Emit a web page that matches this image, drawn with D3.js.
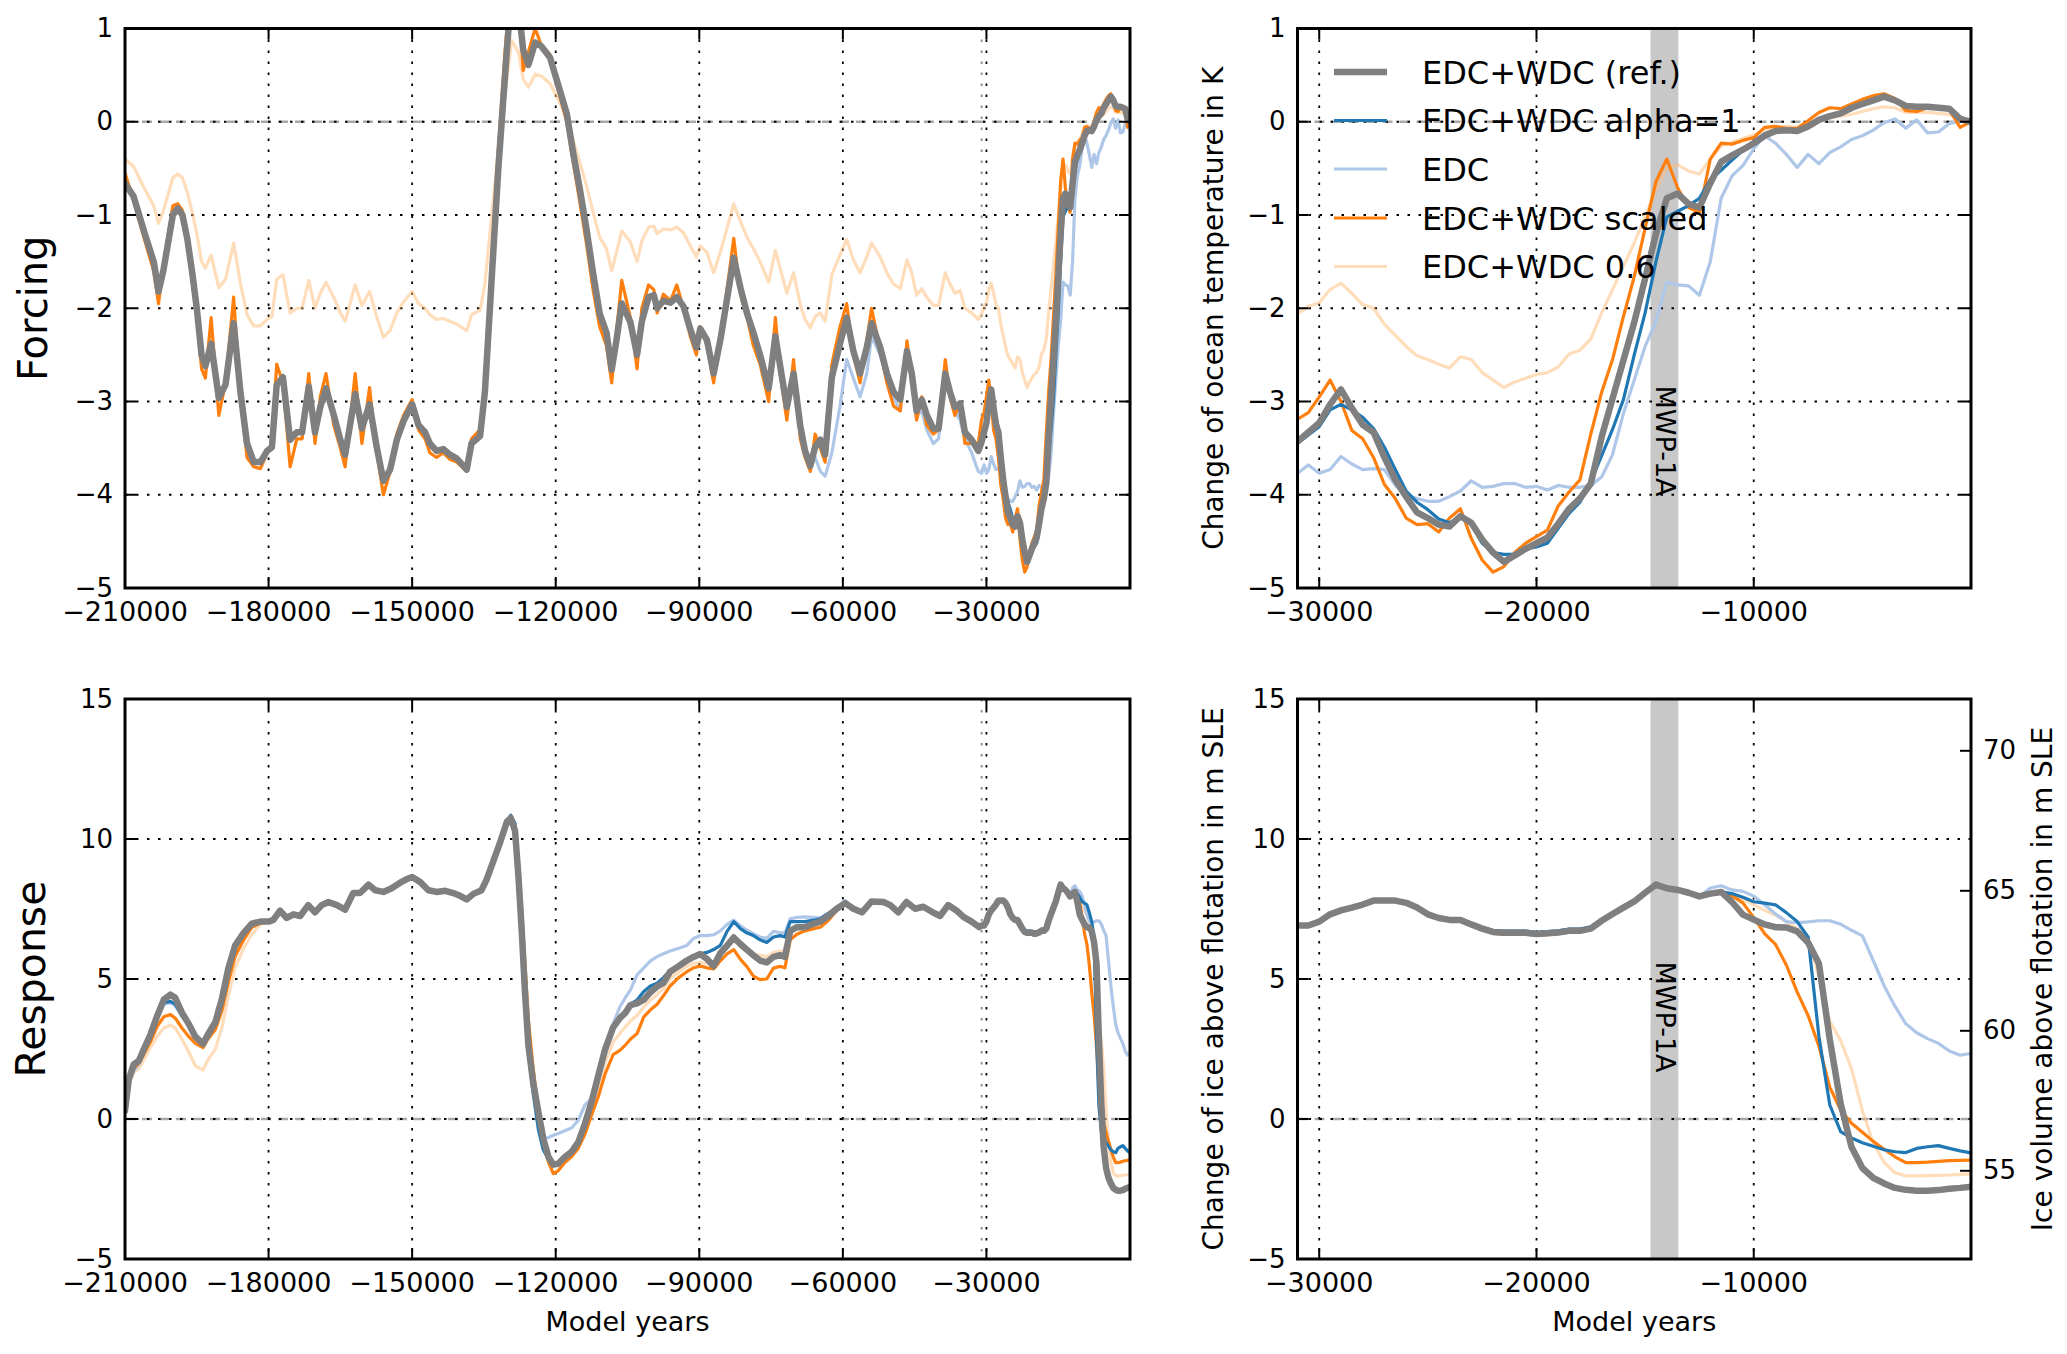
<!DOCTYPE html>
<html>
<head>
<meta charset="utf-8">
<script src="https://cdn.jsdelivr.net/npm/d3@7"></script>
<style>
  body { margin: 0; background: #fff; }
  text { font-family: "DejaVu Sans", sans-serif; fill: #000; }
</style>
</head>
<body>
<svg id="vis"></svg>
<script>
// ---------------- data ----------------
// series order: ref, alpha=1, EDC, scaled, 0.6
var seriesLabels = ["EDC+WDC (ref.)", "EDC+WDC alpha=1", "EDC", "EDC+WDC scaled", "EDC+WDC 0.6"];

// long record, forcing (-210 ka .. -31.7 ka)
var forcingYears = [-210000,-208200,-206000,-204000,-203000,-202000,-200000,-199000,-198000,-197000,
  -196000,-195000,-194000,-193200,-192000,-190400,-189000,-187300,-185900,-184500,
  -183100,-181700,-180300,-179300,-178300,-177000,-175500,-174100,-173000,-171600,
  -170300,-169200,-168000,-166400,-165000,-164000,-161900,-160500,-158900,-157400,
  -156000,-154600,-153200,-151800,-150000,-148700,-147300,-146300,-144900,-143500,
  -142100,-140700,-138600,-137600,-135800,-134800,-133400,-132000,-130600,-129200,
  -127800,-126800,-125700,-124300,-123000,-121200,-119800,-117700,-116300,-115000,
  -113600,-112200,-110800,-109400,-108300,-107300,-106200,-104400,-103000,-102000,
  -100600,-99500,-98800,-97500,-96000,-94700,-93300,-91900,-90600,-89800,
  -88400,-87000,-85600,-84200,-82800,-81400,-80000,-78700,-77300,-75500,
  -74100,-73100,-71700,-70300,-68900,-67900,-66800,-65800,-64700,-63700,
  -62300,-60600,-59200,-57800,-56400,-55000,-54000,-52200,-50800,-49400,
  -48000,-46600,-45600,-44600,-43500,-42500,-41100,-40000,-38600,-37600,
  -36600,-35500,-34500,-33100,-31700];

var forcingRef = [-0.66,-0.80,-1.18,-1.50,-1.82,-1.60,-1.00,-0.93,-1.00,-1.25,
  -1.60,-2.00,-2.50,-2.62,-2.38,-2.96,-2.82,-2.16,-2.89,-3.45,
  -3.65,-3.65,-3.53,-3.49,-2.82,-2.74,-3.41,-3.33,-3.33,-2.84,
  -3.33,-3.06,-2.86,-3.14,-3.41,-3.57,-2.92,-3.29,-3.03,-3.49,
  -3.85,-3.73,-3.41,-3.21,-3.03,-3.25,-3.33,-3.45,-3.53,-3.51,
  -3.57,-3.61,-3.73,-3.45,-3.37,-2.90,-1.70,-0.51,0.49,1.45,
  1.25,0.77,0.61,0.85,0.81,0.69,0.45,0.09,-0.35,-0.71,
  -1.14,-1.62,-2.06,-2.26,-2.66,-2.34,-1.95,-2.15,-2.50,-2.14,
  -1.88,-1.86,-2.00,-1.92,-1.94,-1.88,-1.98,-2.22,-2.42,-2.22,
  -2.34,-2.70,-2.34,-1.90,-1.46,-1.78,-2.06,-2.26,-2.50,-2.86,
  -2.30,-2.62,-3.06,-2.70,-3.26,-3.53,-3.69,-3.49,-3.41,-3.57,
  -2.74,-2.38,-2.10,-2.46,-2.70,-2.42,-2.16,-2.42,-2.70,-2.90,
  -2.98,-2.46,-2.70,-3.10,-2.98,-3.14,-3.29,-3.29,-2.70,-2.90,
  -3.06,-3.02,-3.33,-3.41,-3.53];

var forcingAlpha = [-0.67,-0.81,-1.18,-1.50,-1.83,-1.60,-1.01,-0.94,-1.00,-1.25,
  -1.61,-2.00,-2.50,-2.62,-2.38,-2.96,-2.82,-2.17,-2.89,-3.45,
  -3.65,-3.66,-3.53,-3.49,-2.83,-2.74,-3.41,-3.33,-3.33,-2.84,
  -3.33,-3.06,-2.86,-3.14,-3.41,-3.57,-2.92,-3.29,-3.03,-3.49,
  -3.85,-3.73,-3.41,-3.21,-3.03,-3.25,-3.33,-3.45,-3.53,-3.51,
  -3.57,-3.61,-3.73,-3.45,-3.37,-2.92,-1.72,-0.53,0.47,1.45,
  1.25,0.77,0.61,0.85,0.81,0.69,0.45,0.09,-0.35,-0.71,
  -1.14,-1.62,-2.06,-2.26,-2.66,-2.34,-1.95,-2.15,-2.50,-2.14,
  -1.88,-1.86,-2.00,-1.92,-1.94,-1.88,-1.98,-2.22,-2.42,-2.22,
  -2.34,-2.70,-2.34,-1.90,-1.46,-1.78,-2.06,-2.26,-2.50,-2.86,
  -2.30,-2.62,-3.06,-2.70,-3.26,-3.53,-3.69,-3.49,-3.41,-3.57,
  -2.74,-2.38,-2.10,-2.46,-2.70,-2.42,-2.16,-2.42,-2.70,-2.90,
  -2.98,-2.46,-2.70,-3.10,-2.98,-3.14,-3.29,-3.29,-2.70,-2.90,
  -3.06,-3.02,-3.33,-3.41,-3.53];

var forcingEdc = [-0.66,-0.80,-1.18,-1.50,-1.82,-1.60,-1.00,-0.93,-1.00,-1.25,
  -1.60,-2.00,-2.50,-2.62,-2.38,-2.96,-2.82,-2.16,-2.89,-3.45,
  -3.65,-3.65,-3.53,-3.49,-2.82,-2.74,-3.41,-3.33,-3.33,-2.84,
  -3.33,-3.06,-2.86,-3.14,-3.41,-3.57,-2.92,-3.29,-3.03,-3.49,
  -3.85,-3.73,-3.41,-3.21,-3.03,-3.25,-3.33,-3.45,-3.53,-3.51,
  -3.57,-3.61,-3.73,-3.45,-3.37,-2.90,-1.70,-0.51,0.49,1.45,
  1.25,0.77,0.61,0.85,0.81,0.69,0.45,0.09,-0.35,-0.71,
  -1.14,-1.62,-2.06,-2.26,-2.66,-2.34,-1.95,-2.15,-2.50,-2.14,
  -1.88,-1.86,-2.00,-1.92,-1.94,-1.88,-1.98,-2.22,-2.42,-2.22,
  -2.34,-2.70,-2.34,-1.90,-1.46,-1.78,-2.06,-2.26,-2.50,-2.86,
  -2.30,-2.62,-3.06,-2.70,-3.26,-3.53,-3.69,-3.60,-3.75,-3.80,
  -3.55,-3.05,-2.55,-2.75,-2.95,-2.70,-2.30,-2.50,-2.75,-2.95,
  -3.10,-2.45,-2.80,-3.15,-3.10,-3.30,-3.45,-3.40,-2.75,-2.95,
  -3.10,-3.20,-3.40,-3.55,-3.75];

var forcingScaled = [-0.55,-0.85,-1.25,-1.60,-1.95,-1.55,-0.90,-0.88,-0.95,-1.30,
  -1.70,-2.10,-2.65,-2.75,-2.10,-3.15,-2.80,-1.88,-2.95,-3.60,
  -3.70,-3.72,-3.55,-3.45,-2.60,-2.80,-3.70,-3.40,-3.40,-2.70,
  -3.45,-2.95,-2.70,-3.25,-3.50,-3.70,-2.70,-3.45,-2.85,-3.55,
  -4.00,-3.75,-3.35,-3.15,-2.98,-3.30,-3.40,-3.55,-3.60,-3.55,
  -3.62,-3.65,-3.75,-3.40,-3.30,-2.85,-1.50,-0.30,0.75,1.60,
  1.40,0.55,0.75,1.00,0.82,0.72,0.40,0.00,-0.45,-0.85,
  -1.30,-1.80,-2.20,-2.40,-2.80,-2.25,-1.70,-2.10,-2.65,-2.00,
  -1.75,-1.80,-2.05,-1.85,-1.92,-1.75,-2.00,-2.30,-2.50,-2.20,
  -2.40,-2.80,-2.30,-1.80,-1.25,-1.85,-2.10,-2.40,-2.60,-3.00,
  -2.10,-2.70,-3.20,-2.55,-3.40,-3.60,-3.75,-3.35,-3.50,-3.65,
  -2.60,-2.20,-1.95,-2.50,-2.80,-2.35,-2.00,-2.45,-2.80,-3.05,
  -3.10,-2.35,-2.75,-3.20,-2.95,-3.25,-3.35,-3.30,-2.55,-2.95,
  -3.15,-3.00,-3.45,-3.45,-3.45];

var forcingSix = [-0.40,-0.48,-0.71,-0.90,-1.09,-0.96,-0.60,-0.56,-0.60,-0.75,
  -0.96,-1.20,-1.50,-1.57,-1.43,-1.78,-1.69,-1.30,-1.73,-2.07,
  -2.19,-2.19,-2.12,-2.09,-1.69,-1.64,-2.05,-2.00,-2.00,-1.70,
  -2.00,-1.84,-1.72,-1.88,-2.05,-2.14,-1.75,-1.97,-1.82,-2.09,
  -2.31,-2.24,-2.05,-1.93,-1.82,-1.95,-2.00,-2.07,-2.12,-2.11,
  -2.14,-2.17,-2.24,-2.07,-2.02,-1.74,-1.02,-0.31,0.29,0.87,
  0.75,0.46,0.37,0.51,0.49,0.41,0.27,0.05,-0.21,-0.43,
  -0.68,-0.97,-1.24,-1.36,-1.60,-1.40,-1.17,-1.29,-1.50,-1.28,
  -1.13,-1.12,-1.20,-1.15,-1.16,-1.13,-1.19,-1.33,-1.45,-1.33,
  -1.40,-1.62,-1.40,-1.14,-0.88,-1.07,-1.24,-1.36,-1.50,-1.72,
  -1.38,-1.57,-1.84,-1.62,-1.96,-2.12,-2.21,-2.09,-2.05,-2.14,
  -1.64,-1.43,-1.26,-1.48,-1.62,-1.45,-1.30,-1.45,-1.62,-1.74,
  -1.79,-1.48,-1.62,-1.86,-1.79,-1.88,-1.97,-1.97,-1.62,-1.74,
  -1.84,-1.81,-2.00,-2.05,-2.12];

// long record, response (-210 ka .. -31.5 ka)
var responseYears = [-210000,-209200,-208200,-207100,-206100,-204700,-203300,-201900,-200500,-199500,
  -198100,-196700,-195300,-193700,-192700,-191100,-189700,-188400,-187000,-185200,
  -183500,-181700,-180000,-179000,-177600,-176200,-174800,-173400,-171700,-170300,
  -168900,-167500,-165700,-164000,-162300,-160900,-159100,-157700,-156000,-154300,
  -152500,-151100,-150000,-148300,-146600,-144900,-143100,-141400,-140000,-138600,
  -137200,-135500,-134400,-133000,-131600,-130200,-129400,-128500,-127800,-127100,
  -126400,-125700,-124700,-123600,-122600,-121500,-120500,-119500,-118100,-116700,
  -115300,-113900,-112500,-111100,-109700,-108000,-106600,-105400,-104400,-103000,
  -101600,-100200,-98800,-97500,-96100,-94300,-92600,-91200,-89800,-88400,
  -87000,-85600,-84200,-82800,-81400,-80100,-78700,-77300,-75900,-74500,
  -73100,-72100,-71000,-69600,-67900,-66100,-64700,-63000,-61300,-59500,
  -57800,-56000,-54000,-51500,-50100,-48400,-46700,-44900,-43200,-41400,
  -39700,-38000,-36200,-34800,-33100,-31500];

var responseRef = [0.30,1.42,1.95,2.08,2.48,3.01,3.67,4.26,4.44,4.33,
  3.80,3.40,2.94,2.68,3.01,3.47,4.33,5.39,6.19,6.65,
  6.98,7.05,7.05,7.11,7.44,7.18,7.31,7.25,7.64,7.38,
  7.64,7.75,7.64,7.48,8.07,8.07,8.37,8.17,8.11,8.24,
  8.44,8.57,8.64,8.46,8.17,8.11,8.15,8.07,7.97,7.84,
  8.04,8.17,8.57,9.23,9.89,10.62,10.75,10.29,8.70,6.72,
  4.46,2.61,1.28,0.23,-0.70,-1.36,-1.63,-1.60,-1.36,-1.17,
  -0.83,-0.17,0.62,1.55,2.48,3.27,3.60,3.80,4.07,4.13,
  4.26,4.53,4.73,4.86,5.26,5.46,5.66,5.79,5.89,5.72,
  5.46,5.92,6.19,6.48,6.25,6.05,5.85,5.66,5.59,5.79,
  5.85,5.79,6.72,6.85,6.85,6.98,7.05,7.25,7.51,7.71,
  7.51,7.38,7.77,7.75,7.64,7.38,7.75,7.51,7.58,7.40,
  7.25,7.64,7.44,7.22,7.05,6.85];

var responseAlpha = [0.30,1.42,1.95,2.08,2.48,3.01,3.67,4.15,4.20,4.10,
  3.70,3.40,2.94,2.68,3.01,3.47,4.33,5.39,6.19,6.65,
  6.98,7.05,7.05,7.11,7.44,7.18,7.31,7.25,7.64,7.38,
  7.64,7.75,7.64,7.48,8.07,8.07,8.37,8.17,8.11,8.24,
  8.44,8.57,8.64,8.46,8.17,8.11,8.15,8.07,7.97,7.84,
  8.04,8.17,8.57,9.23,9.89,10.62,10.85,10.55,9.10,6.90,
  4.40,2.40,0.90,-0.40,-1.10,-1.45,-1.65,-1.60,-1.36,-1.17,
  -0.83,-0.17,0.62,1.55,2.48,3.27,3.65,3.85,4.10,4.25,
  4.55,4.75,4.85,5.05,5.30,5.50,5.70,5.80,5.90,5.95,
  6.05,6.20,6.70,7.05,6.80,6.65,6.55,6.40,6.30,6.50,
  6.55,6.50,7.05,7.05,7.05,7.10,7.15,7.35,7.55,7.75,
  7.51,7.38,7.77,7.75,7.64,7.38,7.75,7.51,7.58,7.40,
  7.25,7.64,7.44,7.22,7.05,6.85];

var responseEdc = [0.30,1.30,1.70,1.95,2.40,2.90,3.55,4.10,4.15,4.05,
  3.65,3.35,2.90,2.65,3.00,3.45,4.30,5.35,6.15,6.65,
  6.98,7.05,7.05,7.11,7.44,7.18,7.31,7.25,7.64,7.38,
  7.64,7.75,7.64,7.48,8.07,8.07,8.37,8.17,8.11,8.24,
  8.44,8.57,8.64,8.46,8.17,8.11,8.15,8.07,7.97,7.84,
  8.04,8.17,8.57,9.23,9.89,10.62,10.75,10.29,8.70,6.72,
  4.46,2.50,1.00,0.00,-0.70,-0.66,-0.58,-0.52,-0.42,-0.32,
  -0.05,0.50,0.72,1.40,2.25,3.40,4.00,4.35,4.60,5.15,
  5.40,5.65,5.80,5.90,6.00,6.10,6.20,6.45,6.55,6.55,
  6.58,6.72,6.95,7.10,6.90,6.75,6.62,6.50,6.45,6.70,
  6.65,6.65,7.15,7.20,7.22,7.20,7.18,7.35,7.55,7.80,
  7.51,7.38,7.77,7.75,7.64,7.38,7.75,7.51,7.58,7.40,
  7.25,7.64,7.44,7.22,7.05,6.85];

var responseScaled = [0.30,1.30,1.80,2.00,2.30,2.75,3.30,3.65,3.73,3.60,
  3.25,2.95,2.70,2.55,2.85,3.20,3.90,4.90,5.80,6.40,
  6.85,7.00,7.05,7.11,7.44,7.18,7.31,7.25,7.64,7.38,
  7.64,7.75,7.64,7.48,8.07,8.07,8.37,8.17,8.11,8.24,
  8.44,8.57,8.64,8.46,8.17,8.11,8.15,8.07,7.97,7.84,
  8.04,8.17,8.57,9.23,9.89,10.62,10.75,10.29,8.90,7.50,
  5.50,3.50,1.80,0.30,-0.80,-1.55,-1.95,-1.85,-1.55,-1.35,
  -1.05,-0.55,0.15,0.80,1.60,2.30,2.45,2.65,2.85,3.05,
  3.65,3.90,4.10,4.40,4.75,5.05,5.26,5.40,5.46,5.40,
  5.36,5.65,5.90,6.05,5.70,5.45,5.10,4.98,5.00,5.39,
  5.45,5.40,6.40,6.60,6.72,6.80,6.85,7.10,7.45,7.68,
  7.51,7.38,7.77,7.75,7.64,7.38,7.75,7.51,7.58,7.40,
  7.25,7.64,7.44,7.22,7.05,6.85];

var responseSix = [0.30,1.25,1.65,1.80,2.10,2.55,2.95,3.25,3.35,3.25,
  2.85,2.40,1.90,1.75,2.10,2.50,3.30,4.40,5.40,6.10,
  6.60,6.95,7.05,7.11,7.44,7.18,7.31,7.25,7.64,7.38,
  7.64,7.75,7.64,7.48,8.07,8.07,8.37,8.17,8.11,8.24,
  8.44,8.57,8.64,8.46,8.17,8.11,8.15,8.07,7.97,7.84,
  8.04,8.17,8.57,9.23,9.89,10.62,10.75,10.29,8.90,7.20,
  5.20,3.20,1.60,0.40,-0.60,-1.30,-1.62,-1.60,-1.40,-1.20,
  -0.90,-0.40,0.30,1.20,2.00,2.75,3.05,3.30,3.50,3.70,
  4.00,4.25,4.45,4.65,5.00,5.25,5.45,5.55,5.60,5.55,
  5.50,5.85,6.25,6.40,6.15,6.00,5.90,5.85,5.80,5.95,
  6.00,6.00,6.70,6.80,6.80,6.92,7.00,7.20,7.48,7.70,
  7.51,7.38,7.77,7.75,7.64,7.38,7.75,7.51,7.58,7.40,
  7.25,7.64,7.44,7.22,7.05,6.85];

// last 31 ka, 500 year steps
var recentYears = [-31000,-30500,-30000,-29500,-29000,-28500,-28000,-27500,-27000,-26500,
  -26000,-25500,-25000,-24500,-24000,-23500,-23000,-22500,-22000,-21500,
  -21000,-20500,-20000,-19500,-19000,-18500,-18000,-17500,-17000,-16500,
  -16000,-15500,-15000,-14500,-14000,-13500,-13000,-12500,-12000,-11500,
  -11000,-10500,-10000,-9500,-9000,-8500,-8000,-7500,-7000,-6500,
  -6000,-5500,-5000,-4500,-4000,-3500,-3000,-2500,-2000,-1500,
  -1000,-500,0];

var recentForcingRef = [-3.43,-3.33,-3.23,-3.03,-2.87,-3.07,-3.25,-3.33,-3.60,-3.84,
  -4.02,-4.19,-4.25,-4.32,-4.34,-4.23,-4.30,-4.48,-4.62,-4.72,
  -4.65,-4.58,-4.52,-4.46,-4.31,-4.15,-4.04,-3.88,-3.38,-2.97,
  -2.56,-2.15,-1.68,-1.20,-0.82,-0.77,-0.88,-0.92,-0.66,-0.43,
  -0.36,-0.30,-0.23,-0.15,-0.10,-0.09,-0.10,-0.05,0.02,0.06,
  0.09,0.15,0.19,0.23,0.27,0.23,0.17,0.16,0.16,0.15,
  0.14,0.03,0.00];

var recentForcingAlpha = [-3.45,-3.36,-3.27,-3.09,-3.03,-3.09,-3.17,-3.29,-3.49,-3.73,
  -3.96,-4.08,-4.16,-4.26,-4.30,-4.24,-4.32,-4.52,-4.62,-4.64,
  -4.64,-4.58,-4.56,-4.52,-4.36,-4.20,-4.08,-3.86,-3.58,-3.30,
  -2.98,-2.50,-2.05,-1.50,-1.02,-0.96,-0.90,-0.82,-0.62,-0.52,
  -0.41,-0.31,-0.21,-0.13,-0.09,-0.09,-0.09,-0.05,0.03,0.07,
  0.09,0.13,0.19,0.24,0.26,0.22,0.18,0.17,0.16,0.15,
  0.14,0.05,0.00];

var recentForcingEdc = [-3.77,-3.68,-3.77,-3.73,-3.59,-3.67,-3.73,-3.72,-3.73,-3.90,
  -4.00,-4.04,-4.07,-4.07,-4.02,-3.96,-3.85,-3.92,-3.91,-3.88,
  -3.88,-3.92,-3.91,-3.95,-3.90,-3.92,-3.92,-3.90,-3.81,-3.57,
  -3.13,-2.77,-2.41,-2.14,-1.72,-1.75,-1.76,-1.86,-1.50,-0.82,
  -0.58,-0.47,-0.29,-0.15,-0.23,-0.35,-0.49,-0.35,-0.45,-0.33,
  -0.27,-0.19,-0.15,-0.09,-0.01,0.03,-0.07,0.02,-0.12,-0.11,
  -0.02,0.01,-0.01];

var recentForcingScaled = [-3.19,-3.12,-2.95,-2.77,-3.00,-3.31,-3.40,-3.60,-3.89,-4.04,
  -4.25,-4.32,-4.31,-4.40,-4.25,-4.15,-4.47,-4.70,-4.83,-4.77,
  -4.62,-4.52,-4.45,-4.38,-4.12,-3.97,-3.84,-3.35,-2.90,-2.55,
  -2.09,-1.66,-1.14,-0.64,-0.40,-0.71,-0.92,-0.97,-0.40,-0.23,
  -0.24,-0.20,-0.17,-0.06,-0.05,-0.07,-0.07,0.01,0.10,0.15,
  0.14,0.19,0.24,0.28,0.30,0.25,0.12,0.11,0.15,0.14,
  0.13,-0.06,0.00];

var recentForcingSix = [-2.06,-1.98,-1.94,-1.80,-1.73,-1.84,-1.96,-2.00,-2.17,-2.29,
  -2.41,-2.51,-2.55,-2.60,-2.64,-2.52,-2.55,-2.69,-2.77,-2.85,
  -2.79,-2.75,-2.71,-2.69,-2.63,-2.49,-2.45,-2.33,-2.05,-1.80,
  -1.55,-1.30,-1.02,-0.73,-0.50,-0.46,-0.53,-0.56,-0.40,-0.26,
  -0.22,-0.18,-0.14,-0.09,-0.06,-0.05,-0.06,-0.03,0.02,0.04,
  0.06,0.08,0.11,0.14,0.16,0.15,0.10,0.10,0.10,0.09,
  0.08,0.03,0.00];

var recentResponseRef = [6.91,6.91,7.05,7.31,7.45,7.55,7.66,7.80,7.80,7.80,
  7.72,7.55,7.31,7.18,7.11,7.11,6.95,6.80,6.68,6.65,
  6.65,6.65,6.61,6.63,6.66,6.72,6.72,6.80,7.08,7.32,
  7.55,7.77,8.08,8.37,8.24,8.18,8.08,7.95,8.05,8.11,
  7.75,7.30,7.12,6.95,6.85,6.84,6.70,6.30,5.55,2.85,
  0.55,-1.00,-1.75,-2.10,-2.30,-2.46,-2.53,-2.56,-2.56,-2.54,
  -2.49,-2.46,-2.42];

var recentResponseAlpha = [6.91,6.91,7.05,7.31,7.45,7.55,7.66,7.80,7.80,7.80,
  7.72,7.55,7.33,7.20,7.14,7.14,6.99,6.85,6.73,6.71,
  6.71,6.71,6.67,6.69,6.72,6.78,6.78,6.86,7.12,7.34,
  7.55,7.77,8.08,8.37,8.24,8.18,8.08,7.95,8.05,8.11,
  8.05,7.92,7.76,7.71,7.65,7.37,7.05,6.50,2.95,0.50,
  -0.45,-0.68,-0.85,-0.97,-1.10,-1.17,-1.20,-1.05,-0.99,-0.95,
  -1.05,-1.14,-1.21];

var recentResponseEdc = [6.91,6.91,7.05,7.31,7.45,7.55,7.66,7.80,7.80,7.80,
  7.72,7.55,7.33,7.20,7.14,7.14,6.99,6.85,6.73,6.71,
  6.71,6.71,6.67,6.69,6.72,6.78,6.78,6.86,7.12,7.34,
  7.55,7.77,8.08,8.37,8.24,8.18,8.08,7.95,8.25,8.33,
  8.18,8.13,7.96,7.65,7.32,7.05,7.01,7.04,7.08,7.08,
  6.96,6.74,6.54,5.66,4.76,4.03,3.40,3.08,2.87,2.70,
  2.43,2.28,2.34];

var recentResponseScaled = [6.91,6.91,7.05,7.31,7.45,7.55,7.66,7.80,7.80,7.80,
  7.72,7.55,7.31,7.18,7.11,7.11,6.95,6.76,6.63,6.60,
  6.60,6.60,6.56,6.58,6.62,6.68,6.70,6.78,7.06,7.30,
  7.53,7.75,8.05,8.34,8.22,8.16,8.06,7.93,8.00,8.07,
  7.98,7.72,7.20,6.62,6.24,5.50,4.53,3.70,2.60,1.14,
  0.32,-0.15,-0.47,-0.80,-1.08,-1.35,-1.56,-1.56,-1.54,-1.51,
  -1.49,-1.48,-1.47];

var recentResponseSix = [6.91,6.91,7.05,7.31,7.45,7.55,7.66,7.80,7.80,7.80,
  7.72,7.55,7.31,7.18,7.11,7.11,6.95,6.78,6.65,6.62,
  6.62,6.62,6.58,6.60,6.64,6.70,6.71,6.79,7.07,7.31,
  7.54,7.76,8.06,8.35,8.23,8.17,8.07,7.94,8.01,8.09,
  8.02,7.85,7.65,7.45,7.28,7.05,6.80,6.46,5.10,3.50,
  2.80,1.80,0.30,-0.86,-1.55,-1.92,-2.03,-2.03,-2.02,-2.01,
  -2.00,-1.98,-1.96];

// present-day ice volume above flotation (m SLE), offsets the twin axis
var presentVolume = 56.85;
// meltwater pulse 1A window
var mwpWindow = [-14750, -13470];

var longTicks = [-210000, -180000, -150000, -120000, -90000, -60000, -30000];
var shortTicks = [-30000, -20000, -10000];
var forcingTicks = [-5, -4, -3, -2, -1, 0, 1];
var responseTicks = [-5, 0, 5, 10, 15];
var volumeTicks = [55, 60, 65, 70];

// ---------------- style ----------------
var colors = ["#7f7f7f", "#1f77b4", "#aec7e8", "#ff7f0e", "#ffbb78"];
var widths = [6.5, 3.2, 3.2, 3.2, 3.2];
var opac = [1, 1, 1, 1, 0.5];
var drawOrder = [4, 2, 3, 1, 0];

var svg = d3.select("#vis").attr("width", 2067).attr("height", 1354);

var xLong = d3.scaleLinear().domain([-210000, 0]).range([125, 1130]);
var xShort = d3.scaleLinear().domain([-31000, 0]).range([1297.5, 1971]);
var yForcing = d3.scaleLinear().domain([-5, 1]).range([588, 28.5]);
var yResponse = d3.scaleLinear().domain([-5, 15]).range([1259, 699]);
var yVolume = d3.scaleLinear().domain([-5 + presentVolume, 15 + presentVolume]).range([1259, 699]);

var fmt = d3.format("d");

var forcingYearsAll = forcingYears.concat(recentYears);
var forcingAll = [
  forcingRef.concat(recentForcingRef),
  forcingAlpha.concat(recentForcingAlpha),
  forcingEdc.concat(recentForcingEdc),
  forcingScaled.concat(recentForcingScaled),
  forcingSix.concat(recentForcingSix)
];
var responseYearsAll = responseYears.concat(recentYears);
var responseAll = [
  responseRef.concat(recentResponseRef),
  responseAlpha.concat(recentResponseAlpha),
  responseEdc.concat(recentResponseEdc),
  responseScaled.concat(recentResponseScaled),
  responseSix.concat(recentResponseSix)
];

var clipId = 0;

function drawPanel(x, y, xTicks, yTicks, years, series, opt) {
    var g = svg.append("g");
    var xl = x.range()[0], xr = x.range()[1];
    var yb = y.range()[0], yt = y.range()[1];
    var id = "clip" + (clipId++);

    g.append("clipPath").attr("id", id)
        .append("rect")
        .attr("x", xl).attr("y", yt)
        .attr("width", xr - xl).attr("height", yb - yt);

    var body = g.append("g").attr("clip-path", "url(#" + id + ")");

    if (opt.band) {
        body.append("rect")
            .attr("x", x(mwpWindow[0]))
            .attr("width", x(mwpWindow[1]) - x(mwpWindow[0]))
            .attr("y", yt).attr("height", yb - yt)
            .attr("fill", "#c8c8c8");
    }

    // zero line (dash-dot look: grey dashes + black grid dots)
    body.append("line")
        .attr("x1", xl).attr("x2", xr)
        .attr("y1", y(0)).attr("y2", y(0))
        .attr("stroke", "#a8a8a8").attr("stroke-width", 2.6)
        .attr("stroke-dasharray", "10 7");

    // grid
    body.selectAll(".vgrid")
        .data(xTicks.filter(t => x(t) > xl + 2 && x(t) < xr - 2))
        .join("line")
        .attr("x1", d => x(d)).attr("x2", d => x(d))
        .attr("y1", yt).attr("y2", yb)
        .attr("stroke", "#000").attr("stroke-width", 1.8)
        .attr("stroke-dasharray", "2.5 8.5");

    body.selectAll(".hgrid")
        .data(yTicks.filter(t => y(t) < yb - 2 && y(t) > yt + 2))
        .join("line")
        .attr("x1", xl).attr("x2", xr)
        .attr("y1", d => y(d)).attr("y2", d => y(d))
        .attr("stroke", "#000").attr("stroke-width", 1.8)
        .attr("stroke-dasharray", "2.5 8.5");

    // start of the zoomed window
    if (opt.cut) {
        body.append("line")
            .attr("x1", x(opt.cut)).attr("x2", x(opt.cut))
            .attr("y1", yt).attr("y2", yb)
            .attr("stroke", "#888").attr("stroke-width", 1.8)
            .attr("stroke-dasharray", "2.5 8.5");
    }

    var line = d3.line()
        .x(d => x(d[0]))
        .y(d => y(d[1]));

    drawOrder.forEach(k => {
        body.append("path")
            .datum(years.map((t, i) => [t, series[k][i]]))
            .attr("d", line)
            .attr("fill", "none")
            .attr("stroke", colors[k])
            .attr("stroke-opacity", opac[k])
            .attr("stroke-width", widths[k])
            .attr("stroke-linejoin", "round")
            .attr("stroke-linecap", "round");
    });

    if (opt.band) {
        var cx = (x(mwpWindow[0]) + x(mwpWindow[1])) / 2 - 8;
        g.append("text")
            .attr("transform", `translate(${cx},${opt.bandTextY}) rotate(90)`)
            .attr("text-anchor", "middle")
            .attr("font-size", 27)
            .text("MWP-1A");
    }

    // ticks, inward on every side
    var tl = 11;
    xTicks.forEach(t => {
        g.append("line").attr("x1", x(t)).attr("x2", x(t)).attr("y1", yb).attr("y2", yb - tl)
            .attr("stroke", "#000").attr("stroke-width", 2);
        g.append("line").attr("x1", x(t)).attr("x2", x(t)).attr("y1", yt).attr("y2", yt + tl)
            .attr("stroke", "#000").attr("stroke-width", 2);
        g.append("text")
            .attr("x", x(t)).attr("y", yb + 33)
            .attr("text-anchor", "middle")
            .attr("font-size", 27)
            .text(fmt(t));
    });
    yTicks.forEach(t => {
        g.append("line").attr("x1", xl).attr("x2", xl + tl).attr("y1", y(t)).attr("y2", y(t))
            .attr("stroke", "#000").attr("stroke-width", 2);
        if (!opt.twin) {
            g.append("line").attr("x1", xr).attr("x2", xr - tl).attr("y1", y(t)).attr("y2", y(t))
                .attr("stroke", "#000").attr("stroke-width", 2);
        }
        g.append("text")
            .attr("x", xl - 12).attr("y", y(t))
            .attr("dy", "0.33em")
            .attr("text-anchor", "end")
            .attr("font-size", 26)
            .text(fmt(t));
    });

    if (opt.twin) {
        volumeTicks.forEach(t => {
            g.append("line").attr("x1", xr).attr("x2", xr - tl).attr("y1", yVolume(t)).attr("y2", yVolume(t))
                .attr("stroke", "#000").attr("stroke-width", 2);
            g.append("text")
                .attr("x", xr + 12).attr("y", yVolume(t))
                .attr("dy", "0.33em")
                .attr("font-size", 26)
                .text(fmt(t));
        });
        g.append("text")
            .attr("transform", `translate(2052,${(yt + yb) / 2}) rotate(-90)`)
            .attr("text-anchor", "middle")
            .attr("font-size", 28)
            .text("Ice volume above flotation in m SLE");
    }

    if (opt.ylabel) {
        g.append("text")
            .attr("transform", `translate(${opt.ylabelX},${(yt + yb) / 2}) rotate(-90)`)
            .attr("text-anchor", "middle")
            .attr("font-size", opt.ylabelSize)
            .text(opt.ylabel);
    }
    if (opt.xlabel) {
        g.append("text")
            .attr("x", (xl + xr) / 2).attr("y", 1331)
            .attr("text-anchor", "middle")
            .attr("font-size", 27)
            .text(opt.xlabel);
    }

    // frame
    g.append("rect")
        .attr("x", xl).attr("y", yt)
        .attr("width", xr - xl).attr("height", yb - yt)
        .attr("fill", "none").attr("stroke", "#000").attr("stroke-width", 3);

    return g;
}

drawPanel(xLong, yForcing, longTicks, forcingTicks, forcingYearsAll, forcingAll,
    { cut: -31000, ylabel: "Forcing", ylabelX: 47, ylabelSize: 40 });

drawPanel(xLong, yResponse, longTicks, responseTicks, responseYearsAll, responseAll,
    { cut: -31000, ylabel: "Response", ylabelX: 45, ylabelSize: 41, xlabel: "Model years" });

var tr = drawPanel(xShort, yForcing, shortTicks, forcingTicks, forcingYearsAll, forcingAll,
    { band: true, bandTextY: 441, ylabel: "Change of ocean temperature in K", ylabelX: 1223, ylabelSize: 28 });

drawPanel(xShort, yResponse, shortTicks, responseTicks, responseYearsAll, responseAll,
    { band: true, bandTextY: 1017, twin: true, ylabel: "Change of ice above flotation in m SLE",
      ylabelX: 1223, ylabelSize: 28, xlabel: "Model years" });

// legend (top right panel, no frame)
var legendRows = [72, 120.5, 169, 218, 266.5];
var legend = tr.append("g");
seriesLabels.forEach((name, k) => {
    legend.append("line")
        .attr("x1", 1334).attr("x2", 1387)
        .attr("y1", legendRows[k]).attr("y2", legendRows[k])
        .attr("stroke", colors[k])
        .attr("stroke-opacity", opac[k])
        .attr("stroke-width", widths[k]);
    legend.append("text")
        .attr("x", 1422).attr("y", legendRows[k])
        .attr("dy", "0.36em")
        .attr("font-size", 32)
        .text(name);
});
</script>
</body>
</html>
